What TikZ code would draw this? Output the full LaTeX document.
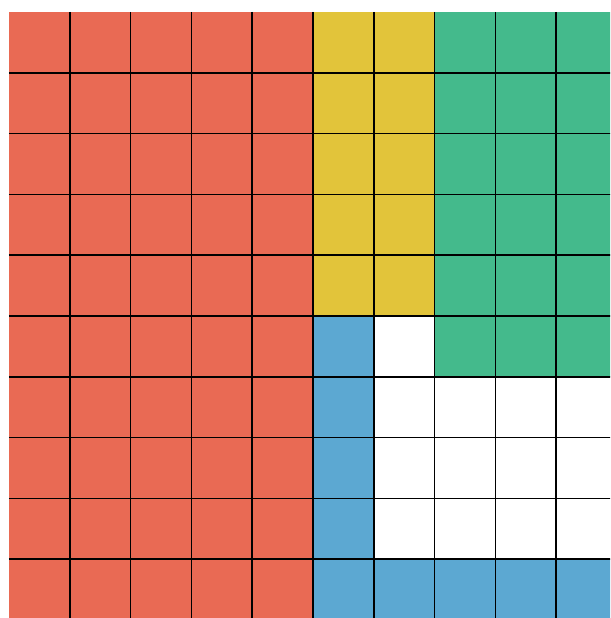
\documentclass[tikz,border=0pt]{standalone}
\usepackage{tikz}
\definecolor{tilered}{RGB}{233,106,84}
\definecolor{tileyellow}{RGB}{226,196,58}
\definecolor{tilegreen}{RGB}{68,186,140}
\definecolor{tileblue}{RGB}{92,168,210}
\tikzset{gridline/.style={black,line width=1.2pt}}

\begin{document}
\begin{tikzpicture}[x=1.52cm,y=-1.52cm]
  \useasboundingbox (-0.148,-0.197) rectangle (9.885,9.967);
  \clip (-0.148,-0.197) rectangle (9.885,9.967);
  \fill[white] (-0.148,-0.197) rectangle (9.885,9.967);
  % coloured blocks
  \fill[tilered] (0,0) rectangle (5,10);
  \fill[tileyellow] (5,0) rectangle (7,5);
  \fill[tilegreen] (7,0) rectangle (10,6);
  \fill[tileblue] (5,5) rectangle (6,10);
  \fill[tileblue] (5,9) rectangle (10,10);
  % grid
  \foreach \i in {1,...,9} {
    \draw[gridline] (\i,0) -- (\i,10);
    \draw[gridline] (0,\i) -- (10,\i);
  }
\end{tikzpicture}
\end{document}
